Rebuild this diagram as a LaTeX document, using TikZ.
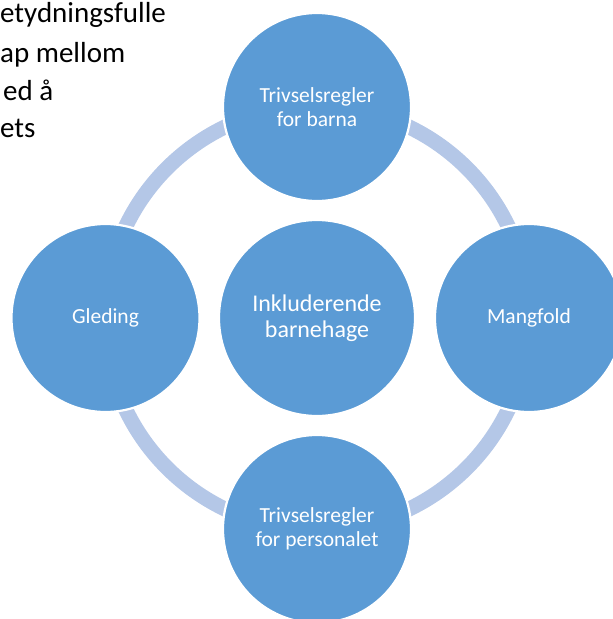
\documentclass[tikz,border=0pt]{standalone}
\usepackage{fontspec}
\setmainfont{Carlito}
\definecolor{bub}{HTML}{5B9BD5}
\definecolor{ringc}{HTML}{B4C7E7}
\begin{document}
\begin{tikzpicture}[x=1pt,y=-1pt,
  bubble/.style={circle,fill=bub,draw=white,line width=2.2pt,minimum size=188pt,inner sep=0pt,
    text=white,align=center,font=\fontsize{21.5}{24}\selectfont},
  mainbubble/.style={bubble,minimum size=196pt,font=\fontsize{24}{26.5}\selectfont},
  ringline/.style={draw=ringc,line width=15pt},
  bodytext/.style={anchor=base west,inner sep=0pt,font=\fontsize{29}{32}\selectfont}]
\useasboundingbox (0,0) rectangle (613,619);
\begin{scope}
\clip (0,0) rectangle (613,619);
\coordinate (ctr) at (317,318);
\draw[ringline] (ctr) circle (212);
\node[bubble] (top) at (317,107) {Trivselsregler\\for barna};
\node[bubble] (left) at (105.5,318) {Gleding};
\node[bubble] (right) at (529,318) {Mangfold};
\node[bubble] (bot) at (317,529) {Trivselsregler\\for personalet};
\node[mainbubble] (mid) at (317,318) {Inkluderende\\barnehage};
\node[bodytext] (t1) at (0,22) {etydningsfulle};
\node[bodytext] (t2) at (0,62) {ap mellom};
\node[bodytext] (t3) at (3,100) {ed å};
\node[bodytext] (t4) at (0,137) {ets};
\end{scope}
\end{tikzpicture}
\end{document}
